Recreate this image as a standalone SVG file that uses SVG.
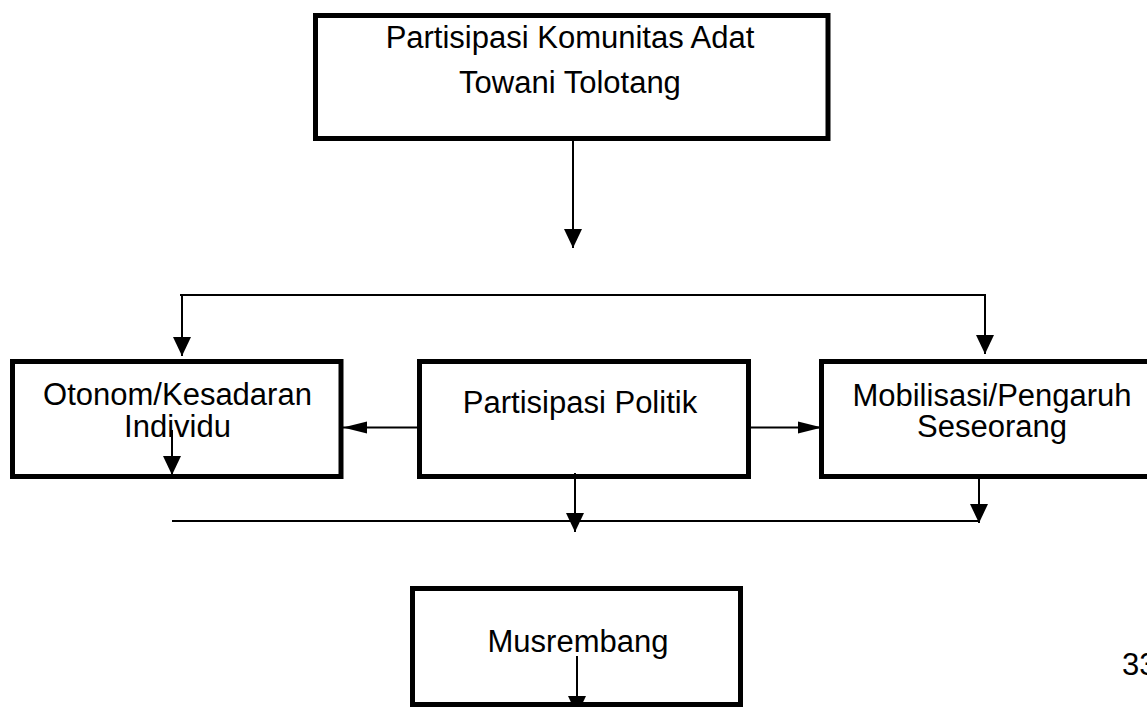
<svg xmlns="http://www.w3.org/2000/svg" width="1147" height="707" viewBox="0 0 1147 707">
<style>
.box{fill:#fff;stroke:#000;stroke-width:5}
.t{font-family:"Liberation Sans",Arial,sans-serif;font-size:31px;fill:#000;text-anchor:middle}
.ln{fill:none;stroke:#000;stroke-width:2}
.ad{marker-end:url(#dn)}
.as{marker-end:url(#sd)}
</style>
<defs>
<marker id="dn" markerUnits="userSpaceOnUse" markerWidth="19" markerHeight="18" refX="19" refY="9" orient="auto" overflow="visible">
<path d="M0,0 L19,9 L0,18 z" fill="#000"/>
</marker>
<marker id="sd" markerUnits="userSpaceOnUse" markerWidth="24" markerHeight="12" refX="24" refY="6" orient="auto" overflow="visible">
<path d="M0,0 L24,6 L0,12 z" fill="#000"/>
</marker>
</defs>
<rect width="1147" height="707" fill="#fff"/>
<g id="n-top">
<rect class="box" x="315.5" y="15.5" width="512.5" height="123"/>
<text class="t" x="570" y="48">Partisipasi Komunitas Adat</text>
<text class="t" x="570" y="93">Towani Tolotang</text>
</g>
<g id="n-otonom">
<rect class="box" x="12.5" y="361.5" width="328.5" height="115"/>
<text class="t" x="177.5" y="405">Otonom/Kesadaran</text>
<text class="t" x="177.5" y="437">Individu</text>
</g>
<g id="n-politik">
<rect class="box" x="419.5" y="361.5" width="329" height="115"/>
<text class="t" x="580" y="413">Partisipasi Politik</text>
</g>
<g id="n-mobilisasi">
<rect class="box" x="821.5" y="361.5" width="340" height="115"/>
<text class="t" x="992" y="406">Mobilisasi/Pengaruh</text>
<text class="t" x="992" y="437">Seseorang</text>
</g>
<g id="n-musrembang">
<rect class="box" x="412.5" y="588.5" width="328" height="116"/>
<text class="t" x="578" y="652">Musrembang</text>
</g>
<g id="page-number">
<text class="t" x="1122" y="675" style="text-anchor:start">33</text>
</g>
<g id="connectors">
<line class="ln ad" x1="573" y1="141" x2="573" y2="248"/>
<line class="ln" x1="180" y1="295" x2="986" y2="295"/>
<line class="ln ad" x1="182" y1="294" x2="182" y2="356"/>
<line class="ln ad" x1="985" y1="294" x2="985" y2="354"/>
<line class="ln as" x1="419" y1="427.5" x2="343" y2="427.5"/>
<line class="ln as" x1="751" y1="427.5" x2="822" y2="427.5"/>
<line class="ln ad" x1="172" y1="430" x2="172" y2="475"/>
<line class="ln" x1="172" y1="521" x2="980" y2="521"/>
<line class="ln ad" x1="575" y1="473" x2="575" y2="532"/>
<line class="ln ad" x1="979" y1="479" x2="979" y2="523"/>
<line class="ln ad" x1="577" y1="656" x2="577" y2="715"/>
</g>
</svg>
